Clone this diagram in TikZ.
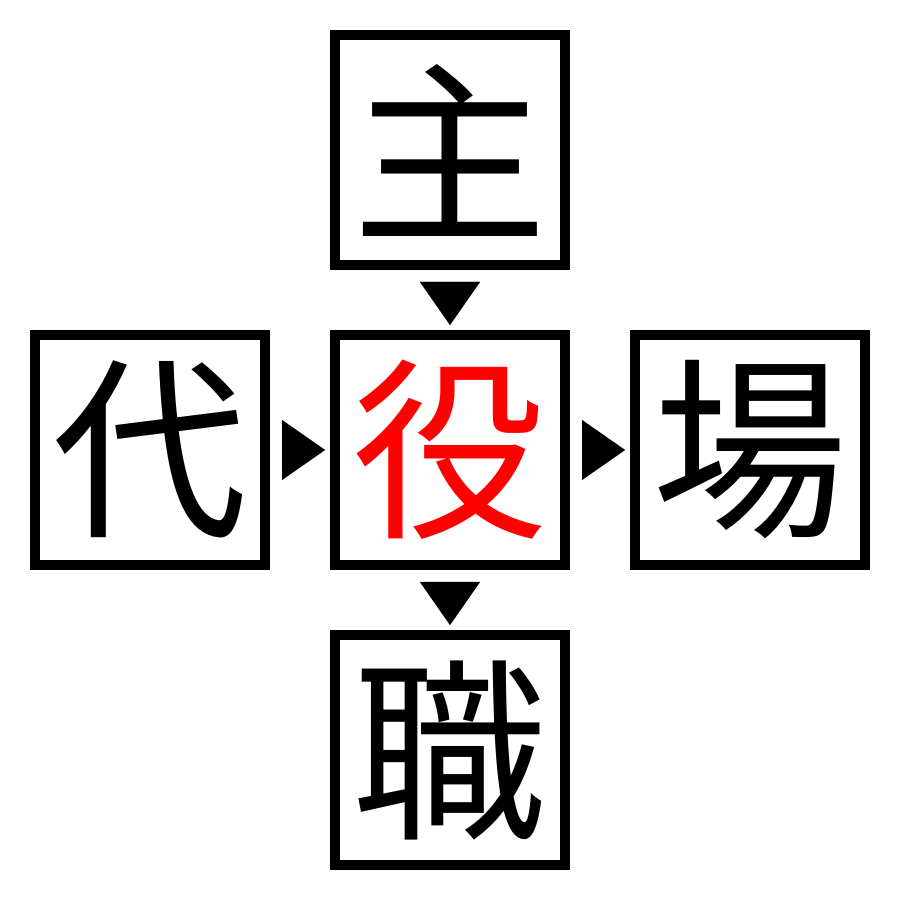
\documentclass[tikz,border=0pt]{standalone}
\usepackage{fontspec}
\newfontfamily\cjk{Noto Sans CJK JP}
\usetikzlibrary{arrows.meta}
\begin{document}
\begin{tikzpicture}[x=1pt,y=1pt,
  charbox/.style={draw=black, line width=10pt, minimum size=230pt, inner sep=0pt, outer sep=5pt,
    font=\cjk\fontsize{195}{195}\selectfont, anchor=center},
  link/.style={line width=0.01pt, -{Triangle[length=43pt,width=60pt]}, shorten <=12pt, shorten >=5pt}
]
\useasboundingbox (0,0) rectangle (900,900);
\fill[white] (0,0) rectangle (900,900);
\node[charbox] (T) at (450,750) {主};
\node[charbox, text=red] (C) at (450,450) {役};
\node[charbox] (L) at (150,450) {代};
\node[charbox] (R) at (750,450) {場};
\node[charbox] (B) at (450,150) {職};
\draw[link] (T) -- (C);
\draw[link] (L) -- (C);
\draw[link] (C) -- (R);
\draw[link] (C) -- (B);
\end{tikzpicture}
\end{document}
